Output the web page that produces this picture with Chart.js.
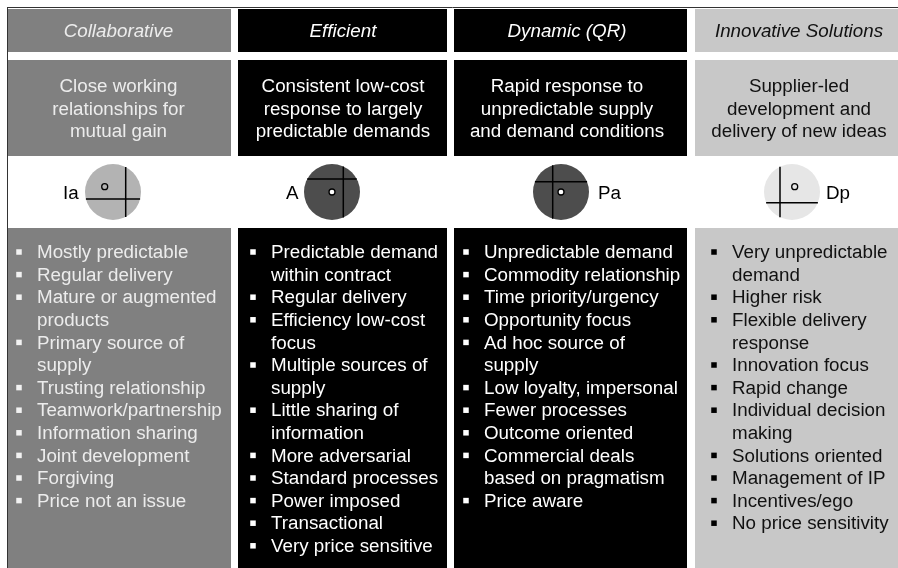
<!DOCTYPE html>
<html>
<head>
<meta charset="utf-8">
<style>
  html, body { margin: 0; padding: 0; background: #fff; }
  canvas { display: block; }
</style>
<script src="https://cdn.jsdelivr.net/npm/chart.js@4/dist/chart.umd.min.js"></script>
</head>
<body>
<canvas id="chart" width="898" height="568"></canvas>
<script>
// contenu du tableau
const headers = ["Collaborative", "Efficient", "Dynamic (QR)", "Innovative Solutions"];
const summaries = [
  ["Close working", "relationships for", "mutual gain"],
  ["Consistent low-cost", "response to largely", "predictable demands"],
  ["Rapid response to", "unpredictable supply", "and demand conditions"],
  ["Supplier-led", "development and", "delivery of new ideas"],
];
const codes = ["Ia", "A", "Pa", "Dp"];
const traitsCollaborative = [
  ["Mostly predictable"], ["Regular delivery"], ["Mature or augmented", "products"],
  ["Primary source of", "supply"], ["Trusting relationship"], ["Teamwork/partnership"],
  ["Information sharing"], ["Joint development"], ["Forgiving"], ["Price not an issue"],
];
const traitsEfficient = [
  ["Predictable demand", "within contract"], ["Regular delivery"], ["Efficiency low-cost", "focus"],
  ["Multiple sources of", "supply"], ["Little sharing of", "information"], ["More adversarial"],
  ["Standard processes"], ["Power imposed"], ["Transactional"], ["Very price sensitive"],
];
const traitsDynamic = [
  ["Unpredictable demand"], ["Commodity relationship"], ["Time priority/urgency"],
  ["Opportunity focus"], ["Ad hoc source of", "supply"], ["Low loyalty, impersonal"],
  ["Fewer processes"], ["Outcome oriented"], ["Commercial deals", "based on pragmatism"], ["Price aware"],
];
const traitsInnovative = [
  ["Very unpredictable", "demand"], ["Higher risk"], ["Flexible delivery", "response"],
  ["Innovation focus"], ["Rapid change"], ["Individual decision", "making"],
  ["Solutions oriented"], ["Management of IP"], ["Incentives/ego"], ["No price sensitivity"],
];
const traits = [traitsCollaborative, traitsEfficient, traitsDynamic, traitsInnovative];

// croix et point dans chaque cercle, en décalage depuis le centre
const crossX = [12.7, 11.3, -8.3, -12];
const crossY = [7, -13, -10.3, 10.7];
const dotX = [-8.3, 0, 0, 2.7];
const dotY = [-5.3, 0, 0, -5.3];

// mise en page
const colLeft = [8, 238, 454, 695];
const colRight = [231, 447, 687, 898];
const rows = [[9, 52], [60, 156], [228, 568]];
const panelColor = ["#808080", "#000000", "#000000", "#c8c8c8"];
const textColor = ["#ececec", "#ffffff", "#ffffff", "#111111"];
const bulletColor = ["#f2f2f2", "#ffffff", "#ffffff", "#000000"];
const textCenter = [118.5, 343, 567, 799];
const bulletX = [19, 253, 466, 714];
const traitX = [37, 271, 484, 732];
const circleX = [113, 332, 561, 792];
const circleY = 192;
const circleR = 28;
const circleColor = ["#b3b3b3", "#4d4d4d", "#4d4d4d", "#e6e6e6"];
const dotColor = ["#b3b3b3", "#ffffff", "#ffffff", "#e6e6e6"];
const codeX = [63, 286, 598, 826];
const lineStep = 22.6;
const firstTraitY = 252;
const FONT = '"Liberation Sans", Arial, sans-serif';
const FONT_SIZE = "18.8px ";

const layers = [];
const flat = { showLine: true, pointRadius: 0, borderWidth: 0 };

// panneaux
headers.forEach((h, c) => {
  rows.forEach(([top, bottom]) => {
    layers.push({
      ...flat,
      data: [{ x: colLeft[c], y: top }, { x: colRight[c], y: top }],
      backgroundColor: panelColor[c],
      borderColor: panelColor[c],
      fill: { value: bottom },
    });
  });
});

// cadre haut et gauche
layers.push({ ...flat, borderWidth: 1, borderColor: "#333", data: [{ x: 7, y: 7.5 }, { x: 898, y: 7.5 }] });
layers.push({ ...flat, borderWidth: 1, borderColor: "#333", data: [{ x: 7.5, y: 7.5 }, { x: 7.5, y: 568 }] });

// cercles
codes.forEach((code, c) => {
  layers.push({
    showLine: false,
    data: [{ x: circleX[c], y: circleY }],
    pointRadius: circleR,
    pointBackgroundColor: circleColor[c],
    pointBorderWidth: 0,
  });
  const halfV = Math.sqrt(circleR * circleR - crossX[c] * crossX[c]);
  const halfH = Math.sqrt(circleR * circleR - crossY[c] * crossY[c]);
  const vx = circleX[c] + crossX[c];
  const hy = circleY + crossY[c];
  layers.push({ ...flat, borderWidth: 1.5, borderColor: "#000", data: [{ x: vx, y: circleY - halfV }, { x: vx, y: circleY + halfV }] });
  layers.push({ ...flat, borderWidth: 1.5, borderColor: "#000", data: [{ x: circleX[c] - halfH, y: hy }, { x: circleX[c] + halfH, y: hy }] });
  layers.push({
    showLine: false,
    data: [{ x: circleX[c] + dotX[c], y: circleY + dotY[c] }],
    pointRadius: 3,
    pointBackgroundColor: dotColor[c],
    pointBorderColor: "#000",
    pointBorderWidth: 1.3,
  });
});

// puces
traits.forEach((list, c) => {
  let line = 0;
  const pts = [];
  list.forEach((item) => {
    pts.push({ x: bulletX[c], y: firstTraitY + line * lineStep });
    line += item.length;
  });
  layers.push({
    showLine: false,
    data: pts,
    pointStyle: "rect",
    pointRadius: 3.9,
    pointBackgroundColor: bulletColor[c],
    pointBorderWidth: 0,
  });
});

// le premier dataset est dessiné au-dessus : on inverse avec order
layers.forEach((d, i) => { d.order = -i; });

const textPlugin = {
  id: "texts",
  afterDatasetsDraw(chart) {
    const ctx = chart.ctx;
    const sx = chart.scales.x;
    const sy = chart.scales.y;
    const put = (str, x, y, color, font, align) => {
      ctx.fillStyle = color;
      ctx.font = font;
      ctx.textAlign = align;
      ctx.textBaseline = "middle";
      ctx.fillText(str, sx.getPixelForValue(x), sy.getPixelForValue(y) + 1);
    };
    ctx.save();
    headers.forEach((h, c) => {
      put(h, textCenter[c], 31, textColor[c], "italic " + FONT_SIZE + FONT, "center");
      summaries[c].forEach((s, i) => {
        put(s, textCenter[c], 86 + i * lineStep, textColor[c], FONT_SIZE + FONT, "center");
      });
      put(codes[c], codeX[c], 193, "#000", FONT_SIZE + FONT, "left");
      let line = 0;
      traits[c].forEach((item) => {
        item.forEach((s) => {
          put(s, traitX[c], firstTraitY + line * lineStep, textColor[c], FONT_SIZE + FONT, "left");
          line++;
        });
      });
    });
    ctx.restore();
  },
};

new Chart(document.getElementById("chart").getContext("2d"), {
  type: "scatter",
  data: { datasets: layers },
  plugins: [textPlugin],
  options: {
    responsive: false,
    animation: false,
    events: [],
    layout: { padding: 0, autoPadding: false },
    plugins: { legend: { display: false }, tooltip: { enabled: false } },
    scales: {
      x: { type: "linear", min: 0, max: 898, display: false },
      y: { type: "linear", min: 0, max: 568, reverse: true, display: false },
    },
  },
});
</script>
</body>
</html>
